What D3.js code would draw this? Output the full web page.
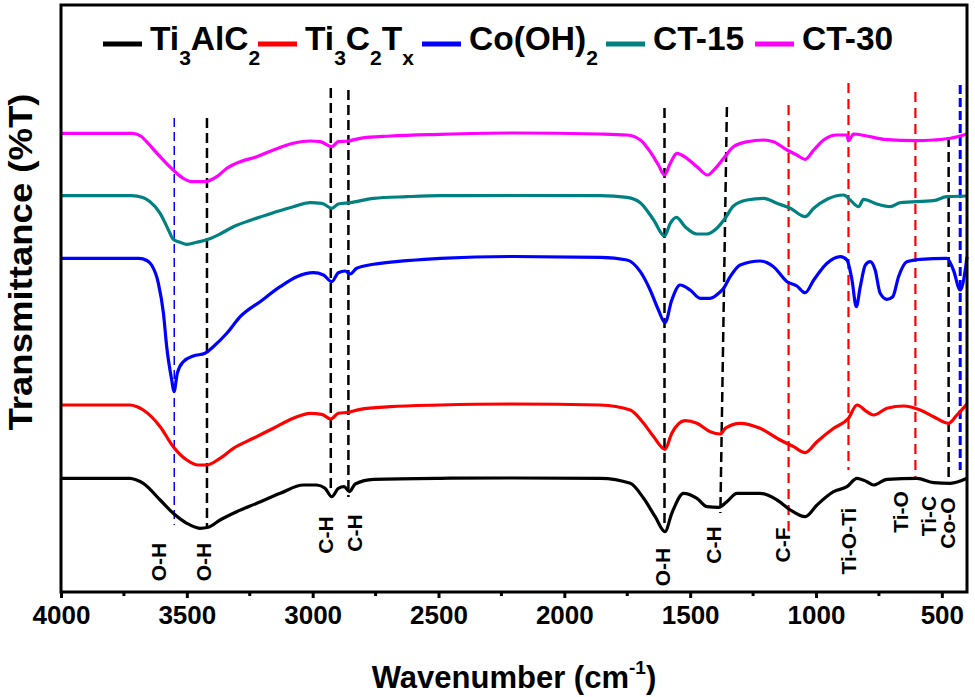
<!DOCTYPE html>
<html lang="en">
<head>
<meta charset="UTF-8">
<title>FTIR spectra</title>
<script src="https://cdnjs.cloudflare.com/ajax/libs/d3/7.8.5/d3.min.js"></script>
<style>
  body { margin: 0; background: #fff; }
  svg { display: block; font-family: Arial, "Liberation Sans", sans-serif; font-weight: bold; }
</style>
</head>
<body>
<div id="chart"></div>
<script>

// ---- data: [wavenumber (cm-1), transmittance (a.u.)] ----
var ti3alc2 = [[4000,113.7],[3726,113.7],[3700,112],[3673,108.7],[3606,92],[3554,78.7],[3500,68.7],[3448,63.7],[3415,64.7],[3368,72],[3302,80.3],[3222,88.7],[3129,98.7],[3037,107],[2984,107],[2951,103.7],[2924,95.3],[2898,103.7],[2875,105.3],[2854,100.3],[2831,108],[2758,112.7],[2493,113.7],[2200,114],[1857,113.7],[1738,108.7],[1685,93.7],[1639,75.3],[1600,60.3],[1573,78.7],[1526,98.7],[1473,93.7],[1433,85.3],[1387,84.7],[1354,90.3],[1314,98.7],[1222,98.7],[1155,92],[1102,82],[1043,75.3],[996,87],[930,100.3],[877,105.3],[837,113.7],[798,110.3],[771,107],[718,112.7],[599,113.7],[533,109.3],[466,108.7],[400,113.7]];

var ti3c2tx = [[4000,187],[3726,187],[3700,185.5],[3673,182],[3606,165.3],[3554,145.3],[3500,132],[3454,127],[3421,127],[3368,133.7],[3315,143.7],[3236,153.7],[3156,163.7],[3077,173.7],[3010,178.7],[2964,177.7],[2928,173],[2898,178.7],[2858,179.7],[2811,182.7],[2692,185.3],[2493,187],[2200,188],[1857,187],[1738,182],[1685,168.7],[1645,155.3],[1600,142.7],[1573,158.7],[1520,171.3],[1473,168.7],[1420,160.3],[1380,158],[1361,163.7],[1301,168.7],[1222,163.7],[1142,152],[1089,145.3],[1043,139.3],[996,150.3],[930,163.7],[871,173.7],[837,187],[798,180.3],[771,177],[718,183.7],[652,186],[586,182],[533,175.3],[473,168.7],[440,177],[400,188]];

var cooh2 = [[4000,333.7],[3690,333.7],[3659,331.5],[3640,327],[3613,308.7],[3593,278.7],[3580,245.3],[3560,212],[3551,200.3],[3538,218.7],[3514,230.3],[3474,236],[3428,238.7],[3395,245.3],[3341,258.7],[3288,275.3],[3209,290.3],[3129,305.3],[3063,315.3],[2997,319.3],[2957,317],[2924,310.3],[2898,319.3],[2871,321],[2851,318],[2825,323.7],[2758,327.7],[2626,331.3],[2493,333.7],[2200,335.5],[1857,334.7],[1751,332],[1698,320.3],[1659,302],[1626,282],[1600,269.3],[1573,292],[1540,307],[1500,302],[1460,293.7],[1420,293.7],[1387,298.7],[1367,303.7],[1341,315.3],[1301,327],[1222,331],[1169,325.3],[1115,310.3],[1076,306],[1043,299.3],[1009,312],[956,328.7],[903,335.3],[877,332],[857,312],[840,285.3],[824,305.3],[804,327],[785,330.3],[765,322],[745,298.7],[718,292.7],[695,295.3],[672,315.3],[639,330.3],[586,332.7],[480,333.7],[454,322],[427,302],[407,322],[400,335.3]];

var ct15 = [[4000,396.3],[3720,396.3],[3675,394.5],[3646,390.3],[3606,378.7],[3573,362],[3554,352.7],[3527,349.7],[3500,347.7],[3461,349.7],[3415,352.7],[3368,358],[3315,365.3],[3236,372.7],[3156,379.3],[3077,385.3],[3010,389.3],[2964,388.7],[2924,383.7],[2898,388],[2851,389.3],[2758,393.7],[2626,395.3],[2493,396.3],[2200,396.5],[1857,396.3],[1751,394.7],[1698,389.3],[1645,372],[1602,356],[1579,368.7],[1555,374.7],[1520,365.3],[1473,358],[1433,358],[1394,363.7],[1361,373.7],[1328,386],[1274,392],[1208,393.7],[1155,388.7],[1102,383.7],[1043,375.3],[1009,383.7],[956,392.7],[890,397],[864,392],[831,385.3],[811,392.7],[758,388],[705,385.3],[665,389.3],[533,391.3],[480,395.3],[400,396]];

var ct30 = [[4000,458.7],[3715,458.7],[3680,455.5],[3660,450.3],[3606,435.3],[3554,422],[3514,413.7],[3474,410.3],[3428,410.3],[3381,415.3],[3341,423.7],[3288,430.3],[3222,435.3],[3156,442],[3077,448.7],[3010,451],[2970,450.3],[2924,445.3],[2898,450.3],[2858,451],[2811,453.7],[2692,456],[2493,457.7],[2200,459],[1857,458],[1751,457],[1698,452],[1659,440.3],[1626,427],[1602,417],[1579,428.7],[1553,438.7],[1513,433.7],[1473,425.3],[1431,417],[1400,423.7],[1367,433.7],[1328,445.3],[1274,450.3],[1208,452],[1169,450.3],[1115,442],[1076,437],[1043,432.7],[1009,442],[970,452],[917,457],[877,457],[871,451.3],[851,458],[798,456],[731,452.7],[599,451.3],[533,452],[466,453.7],[400,458]];

var seriesNames = ["Ti3AlC2", "Ti3C2Tx", "Co(OH)2", "CT-15", "CT-30"];
var seriesData = [ti3alc2, ti3c2tx, cooh2, ct15, ct30];

// band marker lines: wavenumber at top / bottom, value at top / bottom, kind
var markerWnTop    = [3550, 3420, 2928, 2858, 1602, 1354, 1109, 871, 605, 473, 427];
var markerWnBottom = [3550, 3420, 2928, 2858, 1602, 1380, 1109, 871, 605, 473, 427];
var markerTop      = [474, 474, 504, 502, 484, 485, 487, 509, 500, 455, 507];
var markerBottom   = [67, 65, 99, 95, 65, 79, 59, 122, 115, 109, 122];
var markerKind     = ["co", "common", "common", "common", "common", "common", "mx", "mx", "mx", "common", "coO"];

// band labels
var bandLabels = ["O-H", "O-H", "C-H", "C-H", "O-H", "C-H", "C-F", "Ti-O-Ti", "Ti-O", "Ti-C", "Co-O"];
var bandWn     = [3613, 3434, 2948, 2835, 1612, 1407, 1135, 871, 665, 553, 479];
var bandValue  = [30, 30, 57, 59, 25, 47, 47, 51, 80, 76, 69];

var xTicks = [4000, 3500, 3000, 2500, 2000, 1500, 1000, 500];
var xMinorTicks = [3750, 3250, 2750, 2250, 1750, 1250, 750];

// ---- layout ----
var W = 975, H = 697;
var plotL = 61, plotR = 967, plotT = 5, plotB = 592;
var colors = ["#000000", "#ff0000", "#0000ff", "#008080", "#ff00ff"];
var markerStyle = {
  common: { color: "#000", width: 2.5, dash: "10,5" },
  mx:     { color: "#ff0000", width: 2.2, dash: "10,6" },
  co:     { color: "#0000ff", width: 1.5, dash: "9,5" },
  coO:    { color: "#0000ff", width: 3, dash: "9,4" }
};

var svg = d3.select("#chart").append("svg")
  .attr("width", W)
  .attr("height", H);

var x = d3.scaleLinear().domain([4000, 400]).range([plotL, plotR]);
var y = d3.scaleLinear().domain([0, plotB - plotT]).range([plotB, plotT]);

// marker lines (behind curves)
var markers = svg.append("g");
markerWnTop.forEach(function(wn, i) {
  var s = markerStyle[markerKind[i]];
  markers.append("line")
    .attr("x1", x(wn)).attr("y1", y(markerTop[i]))
    .attr("x2", x(markerWnBottom[i])).attr("y2", y(markerBottom[i]))
    .attr("stroke", s.color)
    .attr("stroke-width", s.width)
    .attr("stroke-dasharray", s.dash);
});

// spectra
var line = d3.line()
  .x(function(d) { return x(d[0]); })
  .y(function(d) { return y(d[1]); })
  .curve(d3.curveMonotoneX);

svg.append("g").selectAll("path")
  .data(seriesData)
  .enter()
  .append("path")
  .attr("d", line)
  .attr("fill", "none")
  .attr("stroke", function(d, i) { return colors[i]; })
  .attr("stroke-width", 3.2)
  .attr("stroke-linejoin", "round");

// band labels
var labelSize = 21;
svg.append("g").selectAll("text")
  .data(bandLabels)
  .enter()
  .append("text")
  .attr("transform", function(d, i) {
    return "translate(" + (x(bandWn[i]) + 0.36 * labelSize) + "," + y(bandValue[i]) + ") rotate(-90)";
  })
  .attr("text-anchor", "middle")
  .attr("font-size", labelSize)
  .text(function(d) { return d; });

// x axis
var xAxis = d3.axisBottom(x)
  .tickValues(xTicks)
  .tickSize(6)
  .tickPadding(8)
  .tickFormat(d3.format("d"));

var gx = svg.append("g")
  .attr("transform", "translate(0," + plotB + ")")
  .call(xAxis);
gx.select(".domain").remove();
gx.selectAll(".tick line").attr("stroke", "#000").attr("stroke-width", 3);
gx.selectAll(".tick text")
  .attr("font-size", 26)
  .attr("font-weight", "bold")
  .attr("font-family", "Arial, 'Liberation Sans', sans-serif")
  .attr("fill", "#000");

svg.append("g").selectAll("line")
  .data(xMinorTicks)
  .enter()
  .append("line")
  .attr("x1", function(d) { return x(d); })
  .attr("x2", function(d) { return x(d); })
  .attr("y1", plotB)
  .attr("y2", plotB + 4)
  .attr("stroke", "#000")
  .attr("stroke-width", 3);

// frame
svg.append("rect")
  .attr("x", plotL).attr("y", plotT)
  .attr("width", plotR - plotL).attr("height", plotB - plotT)
  .attr("fill", "none")
  .attr("stroke", "#000")
  .attr("stroke-width", 3);

// axis titles
var xt = svg.append("text")
  .attr("x", 514).attr("y", 688)
  .attr("text-anchor", "middle")
  .attr("font-size", 31);
xt.append("tspan").text("Wavenumber (cm");
xt.append("tspan").attr("font-size", 19).attr("dy", -14).text("-1");
xt.append("tspan").attr("dy", 14).text(")");

svg.append("text")
  .attr("transform", "translate(32,262) rotate(-90)")
  .attr("text-anchor", "middle")
  .attr("font-size", 33)
  .attr("textLength", 337)
  .attr("lengthAdjust", "spacingAndGlyphs")
  .text("Transmittance (%T)");

// legend
var legendX = [103, 258, 422, 606, 755];
var legendParts = [
  [["Ti", 0], ["3", 1], ["AlC", 0], ["2", 1]],
  [["Ti", 0], ["3", 1], ["C", 0], ["2", 1], ["T", 0], ["x", 1]],
  [["Co(OH)", 0], ["2", 1]],
  [["CT-15", 0]],
  [["CT-30", 0]]
];
var legend = svg.append("g");
seriesNames.forEach(function(name, i) {
  legend.append("line")
    .attr("x1", legendX[i]).attr("x2", legendX[i] + 39)
    .attr("y1", 44).attr("y2", 44)
    .attr("stroke", colors[i])
    .attr("stroke-width", 5);
  var t = legend.append("text")
    .attr("x", legendX[i] + 47)
    .attr("y", 50)
    .attr("font-size", 33.5);
  var sub = 0;
  legendParts[i].forEach(function(p) {
    var dy = (p[1] ? 15 : 0) - sub;
    sub = p[1] ? 15 : 0;
    t.append("tspan")
      .attr("dy", dy)
      .attr("font-size", p[1] ? 21 : 33.5)
      .text(p[0]);
  });
});

</script>
</body>
</html>
